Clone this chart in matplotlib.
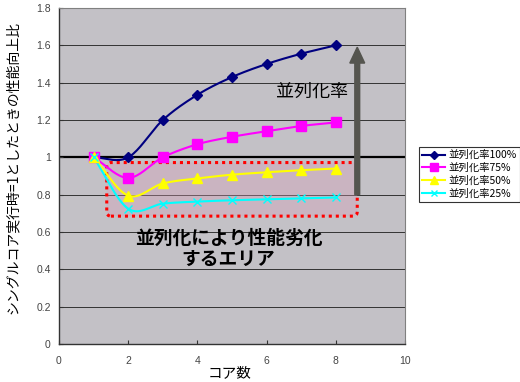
import numpy as np
import matplotlib
matplotlib.use("Agg")
import matplotlib.pyplot as plt
from matplotlib.patches import FancyBboxPatch, FancyArrow

plt.rcParams['font.family'] = ['Noto Sans CJK JP', 'DejaVu Sans']

cores = [1, 2, 3, 4, 5, 6, 7, 8]
series_names = ['並列化率100%', '並列化率75%', '並列化率50%', '並列化率25%']
p100 = [1.0, 1.0, 1.2, 1.335, 1.43, 1.5, 1.555, 1.6]
p75 = [1.0, 0.89, 1.0, 1.07, 1.11, 1.14, 1.168, 1.187]
p50 = [1.0, 0.795, 0.86, 0.887, 0.907, 0.92, 0.931, 0.94]
p25 = [1.0, 0.725, 0.752, 0.763, 0.77, 0.775, 0.78, 0.785]
xticks = [0, 2, 4, 6, 8, 10]
yticks = [0, 0.2, 0.4, 0.6, 0.8, 1.0, 1.2, 1.4, 1.6, 1.8]
ytick_labels = ['0', '0.2', '0.4', '0.6', '0.8', '1', '1.2', '1.4', '1.6', '1.8']


def smooth(x, y, n=20):
    x = np.asarray(x, float); y = np.asarray(y, float)
    px = np.concatenate([[2*x[0]-x[1]], x, [2*x[-1]-x[-2]]])
    py = np.concatenate([[2*y[0]-y[1]], y, [2*y[-1]-y[-2]]])
    xs, ys = [], []
    t = np.linspace(0, 1, n, endpoint=False)
    for i in range(1, len(px)-2):
        for arr, out in ((px, xs), (py, ys)):
            p0, p1, p2, p3 = arr[i-1], arr[i], arr[i+1], arr[i+2]
            out.extend(0.5*((2*p1) + (-p0+p2)*t + (2*p0-5*p1+4*p2-p3)*t**2 + (-p0+3*p1-3*p2+p3)*t**3))
    xs.append(x[-1]); ys.append(y[-1])
    return np.array(xs), np.array(ys)


fig = plt.figure(figsize=(5.2, 3.82), dpi=100)
ax = fig.add_axes([59/520, 38/382, 346/520, 336/382])
ax.set_facecolor('#C3C1C6')
ax.set_xlim(0, 10)
ax.set_ylim(0, 1.8)

for yv in yticks[1:-1]:
    if abs(yv - 1.0) < 1e-9:
        ax.axhline(yv, color='black', lw=1.6, zorder=1)
    else:
        ax.axhline(yv, color='#333333', lw=0.7, zorder=1)
ax.axhline(1.8, color='#555555', lw=0.7, zorder=1)

# degraded region
box = FancyBboxPatch((1.38, 0.685), 8.62-1.38, 0.972-0.685,
                     boxstyle='round,pad=0,rounding_size=0.12',
                     mutation_aspect=0.2,
                     facecolor=(0.85, 0.62, 0.72, 0.35), edgecolor='red',
                     lw=2.2, linestyle=(0, (1, 1.3)), zorder=2)
ax.add_patch(box)

styles = [
    (p100, '#000080', 'D', 5, 1.0),
    (p75, '#FF00FF', 's', 7, 1.0),
    (p50, '#FFFF00', '^', 7, 1.0),
    (p25, '#00FFFF', 'x', 6, 1.0),
]
handles = []
for (vals, col, mk, ms, mew), name in zip(styles, series_names):
    sx, sy = smooth(cores, vals)
    ax.plot(sx, sy, color=col, lw=1.5, zorder=4)
    ax.plot(cores, vals, linestyle='none', marker=mk, color=col, ms=ms,
            mew=mew, zorder=5)
    h, = ax.plot([], [], color=col, lw=1.5, marker=mk, ms=ms - 1, label=name)
    handles.append(h)

# arrow
ax.add_patch(FancyArrow(8.62, 0.80, 0, 0.79, width=0.14, head_width=0.43,
                        head_length=0.085, length_includes_head=True,
                        color='#55554F', zorder=6))

ax.text(7.3, 1.35, '並列化率', ha='center', va='center', fontsize=13, zorder=7)
ax.text(4.9, 0.51, '並列化により性能劣化\nするエリア', ha='center', va='center',
        fontsize=13.5, fontweight='bold', linespacing=1.2, zorder=7)

ax.set_xticks(xticks)
ax.set_yticks(yticks)
ax.set_yticklabels(ytick_labels)
ax.tick_params(axis='both', labelsize=7.5, colors='#333333', length=3,
               direction='in', pad=6)
ax.tick_params(axis='x', pad=9)
for lab in ax.get_xticklabels() + ax.get_yticklabels():
    lab.set_family(['Liberation Sans', 'DejaVu Sans'])
    lab.set_color('#444444')
for s in ['left', 'bottom']:
    ax.spines[s].set_color('#333333')
    ax.spines[s].set_linewidth(1.0)
for s in ['top', 'right']:
    ax.spines[s].set_color('#808080')
    ax.spines[s].set_linewidth(0.8)

fig.text(230/520, 1 - 373/382, 'コア数', ha='center', va='center', fontsize=10.5)
fig.text(13/520, 1 - 168/382, 'シングルコア実行時=1としたときの性能向上比',
         ha='center', va='center', rotation=90, fontsize=10)

leg = fig.legend(handles=handles, loc='upper left', bbox_to_anchor=(0.806, 0.615),
                 fontsize=7.5, frameon=True, fancybox=False, edgecolor='black',
                 handlelength=2.2, handletextpad=0.3, borderpad=0.3,
                 labelspacing=0.25, borderaxespad=0)
leg.get_frame().set_linewidth(0.8)

fig.savefig('out.png', dpi=100)
